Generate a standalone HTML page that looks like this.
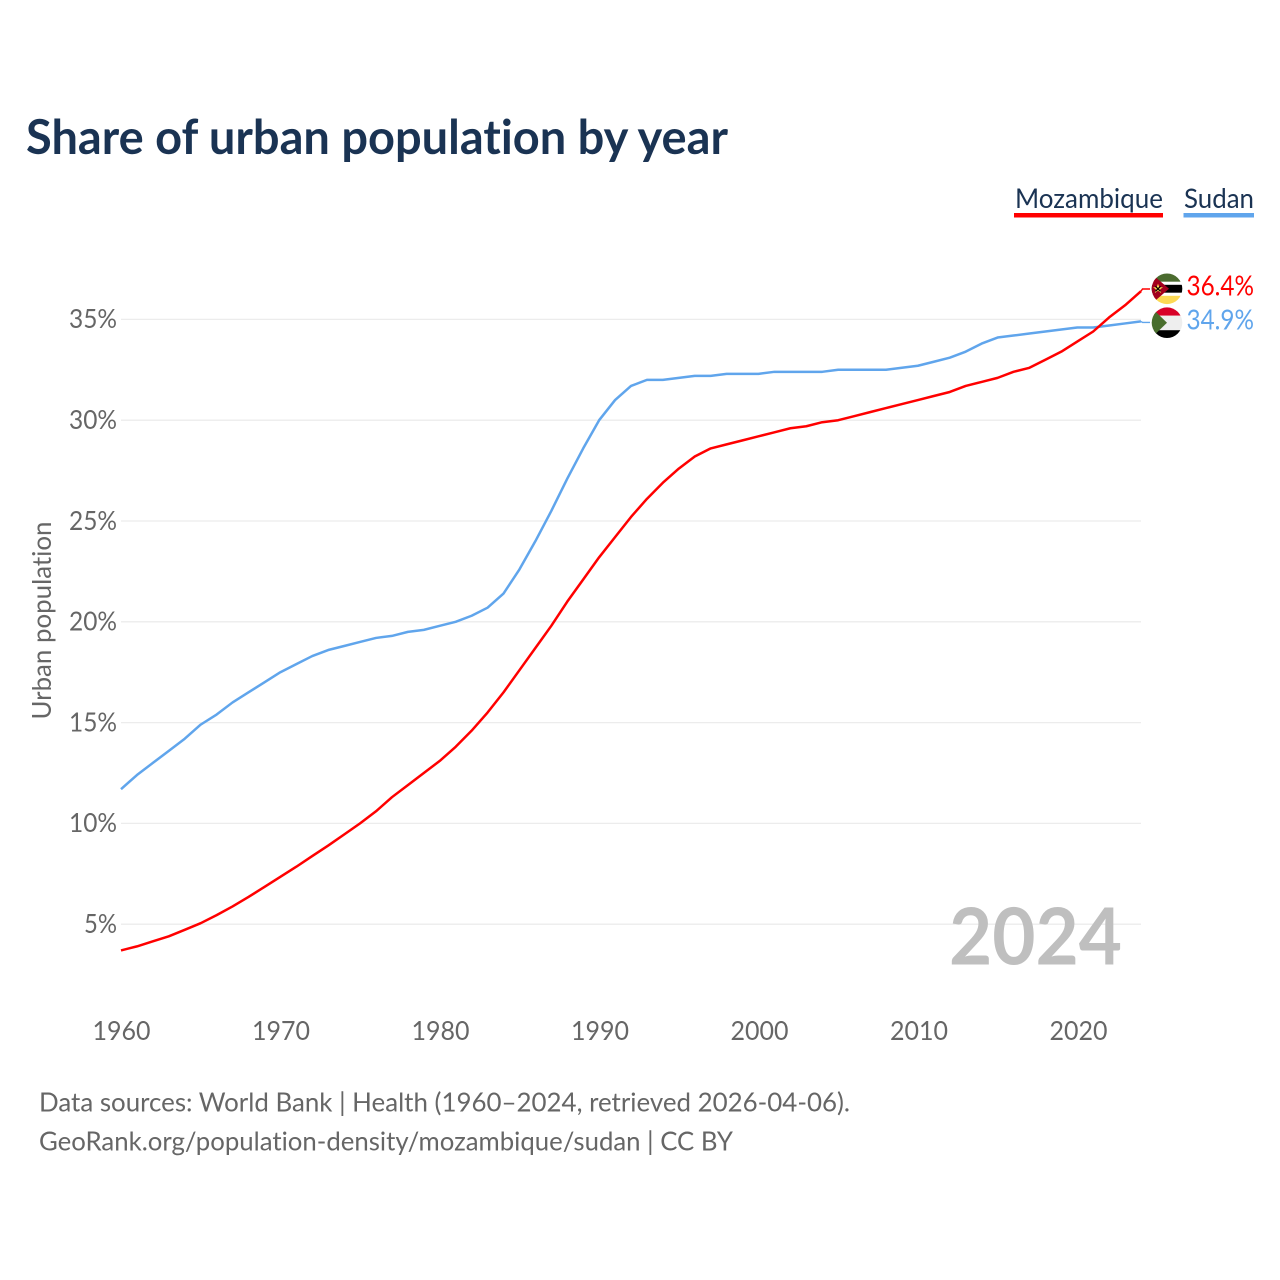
<!DOCTYPE html>
<html lang="en">
<head>
<meta charset="utf-8">
<title>Share of urban population by year</title>
<style>
html,body{margin:0;padding:0;background:#fff;}
svg{display:block;}
text{font-family:"Lato","Carlito","Liberation Sans",sans-serif;font-variant-ligatures:none;}
</style>
</head>
<body>
<svg id="chart" xmlns="http://www.w3.org/2000/svg" width="1280" height="1280" viewBox="0 0 1280 1280">
  <defs>
    <clipPath id="clip-moz"><circle cx="0" cy="0" r="15.3"/></clipPath>
    <clipPath id="clip-sud"><circle cx="0" cy="0" r="15.3"/></clipPath>
  </defs>
  <text x="26" y="154" font-size="48" font-weight="700" fill="#1a3353" textLength="702" lengthAdjust="spacingAndGlyphs">Share of urban population by year</text>

  <g>
    <g>
      <text x="1015" y="208" font-size="27.5" fill="#1a3353" textLength="148" lengthAdjust="spacingAndGlyphs">Mozambique</text>
      <rect x="1014" y="213" width="149" height="4.5" fill="#ff0000"/>
    </g>
    <g>
      <text x="1184" y="208" font-size="27.5" fill="#1a3353" textLength="70" lengthAdjust="spacingAndGlyphs">Sudan</text>
      <rect x="1183.5" y="213" width="70.5" height="4.5" fill="#60a5ec"/>
    </g>
  </g>

  <g id="grid"></g>
  <g id="y-ticks"></g>
  <g id="x-ticks"></g>
  <text transform="translate(51,620.5) rotate(-90)" text-anchor="middle" font-size="26.5" fill="#666666" textLength="198" lengthAdjust="spacingAndGlyphs">Urban population</text>

  <text x="949" y="964.5" font-size="79" font-weight="700" fill="#bfbfbf" textLength="173" lengthAdjust="spacingAndGlyphs">2024</text>

  <g id="series"></g>

  <g id="flag-mozambique" transform="translate(1167,288.8)">
    <g clip-path="url(#clip-moz)">
      <rect x="-16" y="-16" width="32" height="9" fill="#4b6b2f"/>
      <rect x="-16" y="-7" width="32" height="3" fill="#ffffff"/>
      <rect x="-16" y="-4" width="32" height="8" fill="#000000"/>
      <rect x="-16" y="4" width="32" height="3" fill="#ffffff"/>
      <rect x="-16" y="7" width="32" height="9" fill="#fcd955"/>
      <polygon points="-16,-15.5 2,0 -16,15.5" fill="#a2001d"/>
      <polygon points="-9,-5 -7.6,-1.6 -4,-1.6 -6.9,0.6 -5.8,4.2 -9,2 -12.2,4.2 -11.1,0.6 -14,-1.6 -10.4,-1.6" fill="#fcd955"/>
      <path d="M-11.5,-2.5 L-6.5,2.5 M-6.5,-2.5 L-11.5,2.5" stroke="#000000" stroke-width="1.2"/>
    </g>
  </g>
  <g id="flag-sudan" transform="translate(1167,322.7)">
    <g clip-path="url(#clip-sud)">
      <rect x="-16" y="-16" width="32" height="9" fill="#d80027"/>
      <rect x="-16" y="-7" width="32" height="14.5" fill="#eeeeee"/>
      <rect x="-16" y="7.5" width="32" height="9" fill="#000000"/>
      <polygon points="-16,-15.5 0,0 -16,15.5" fill="#496e2d"/>
    </g>
  </g>
  <g id="end-labels"></g>

  <text x="39" y="1111.5" font-size="26.5" fill="#666666" textLength="811" lengthAdjust="spacingAndGlyphs">Data sources: World Bank | Health (1960–2024, retrieved 2026-04-06).</text>
  <text x="39" y="1150.5" font-size="26.5" fill="#666666" textLength="694" lengthAdjust="spacingAndGlyphs">GeoRank.org/population-density/mozambique/sudan | CC BY</text>
</svg>
<script>
var years = [1960,1961,1962,1963,1964,1965,1966,1967,1968,1969,1970,1971,1972,1973,1974,1975,1976,1977,1978,1979,1980,1981,1982,1983,1984,1985,1986,1987,1988,1989,1990,1991,1992,1993,1994,1995,1996,1997,1998,1999,2000,2001,2002,2003,2004,2005,2006,2007,2008,2009,2010,2011,2012,2013,2014,2015,2016,2017,2018,2019,2020,2021,2022,2023,2024];
var mozambique = [3.7,3.9,4.15,4.4,4.72,5.05,5.45,5.88,6.35,6.85,7.35,7.85,8.38,8.9,9.45,10.0,10.6,11.3,11.9,12.5,13.1,13.8,14.6,15.5,16.5,17.6,18.7,19.8,21.0,22.1,23.2,24.2,25.2,26.1,26.9,27.6,28.2,28.6,28.8,29.0,29.2,29.4,29.6,29.7,29.9,30.0,30.2,30.4,30.6,30.8,31.0,31.2,31.4,31.7,31.9,32.1,32.4,32.6,33.0,33.4,33.9,34.4,35.1,35.7,36.4];
var sudan = [11.7,12.4,13.0,13.6,14.2,14.9,15.4,16.0,16.5,17.0,17.5,17.9,18.3,18.6,18.8,19.0,19.2,19.3,19.5,19.6,19.8,20.0,20.3,20.7,21.4,22.6,24.0,25.5,27.1,28.6,30.0,31.0,31.7,32.0,32.0,32.1,32.2,32.2,32.3,32.3,32.3,32.4,32.4,32.4,32.4,32.5,32.5,32.5,32.5,32.6,32.7,32.9,33.1,33.4,33.8,34.1,34.2,34.3,34.4,34.5,34.6,34.6,34.7,34.8,34.9];
var yTickValues = [5,10,15,20,25,30,35];
var xTickValues = [1960,1970,1980,1990,2000,2010,2020];

var SVG_NS = 'http://www.w3.org/2000/svg';
var COLOR_MOZ = '#ff0000';
var COLOR_SUD = '#60a5ec';
function xScale(year){ return 121 + (year - 1960) * (1141 - 121) / 64; }
function xLabelScale(year){ return 121.5 + (year - 1960) * 15.95; }
function yScale(v){ return 924.2 - (v - 5) * 20.16; }
function make(tag, attrs, parent, text){
  var el = document.createElementNS(SVG_NS, tag);
  for (var k in attrs) el.setAttribute(k, attrs[k]);
  if (text !== undefined) el.textContent = text;
  parent.appendChild(el);
  return el;
}

var gridG = document.getElementById('grid');
var yG = document.getElementById('y-ticks');
yTickValues.forEach(function(v){
  var line = make('line', {x1:121, x2:1141, y1:yScale(v), y2:yScale(v), stroke:'#ececec', 'stroke-width':1.3}, gridG);
  
  
  var w = v < 10 ? 33 : 48;
  var t = make('text', {x:117 - w, y:yScale(v) + 8.8, 'font-size':26.5, fill:'#666666', textLength:w, lengthAdjust:'spacingAndGlyphs'}, yG, v + '%');
  
  
});

var xG = document.getElementById('x-ticks');
xTickValues.forEach(function(y){
  var t = make('text', {x:xLabelScale(y) - 29, y:1040, 'font-size':26.5, fill:'#666666', textLength:58, lengthAdjust:'spacingAndGlyphs'}, xG, String(y));
  
  
});

var seriesG = document.getElementById('series');
function pathFor(values){
  return values.map(function(v, i){
    return (i ? 'L' : 'M') + xScale(years[i]).toFixed(2) + ',' + yScale(v).toFixed(2);
  }).join(' ');
}
var sudanLine = make('path', {d:pathFor(sudan), fill:'none', stroke:COLOR_SUD, 'stroke-width':2.5, 'stroke-linejoin':'round'}, seriesG);


var mozLine = make('path', {d:pathFor(mozambique), fill:'none', stroke:COLOR_MOZ, 'stroke-width':2.5, 'stroke-linejoin':'round'}, seriesG);



var last = years.length - 1;
var labelsG = document.getElementById('end-labels');
var mozEnd = yScale(mozambique[last]);
var sudEnd = yScale(sudan[last]);
var mozConn = make('path', {d:'M1141,' + mozEnd + ' L1142.5,289 L1150,289', fill:'none', stroke:COLOR_MOZ, 'stroke-width':1.4}, labelsG);


var sudConn = make('path', {d:'M1141,' + sudEnd + ' L1142.5,322.4 L1150,322.4', fill:'none', stroke:COLOR_SUD, 'stroke-width':1.4}, labelsG);


var mozLabel = make('text', {x:1186.5, y:295.5, 'font-size':28.5, fill:COLOR_MOZ, textLength:67.5, lengthAdjust:'spacingAndGlyphs'}, labelsG, mozambique[last].toFixed(1) + '%');


var sudLabel = make('text', {x:1186.5, y:329.5, 'font-size':28.5, fill:COLOR_SUD, textLength:67.5, lengthAdjust:'spacingAndGlyphs'}, labelsG, sudan[last].toFixed(1) + '%');


</script>
</body>
</html>
